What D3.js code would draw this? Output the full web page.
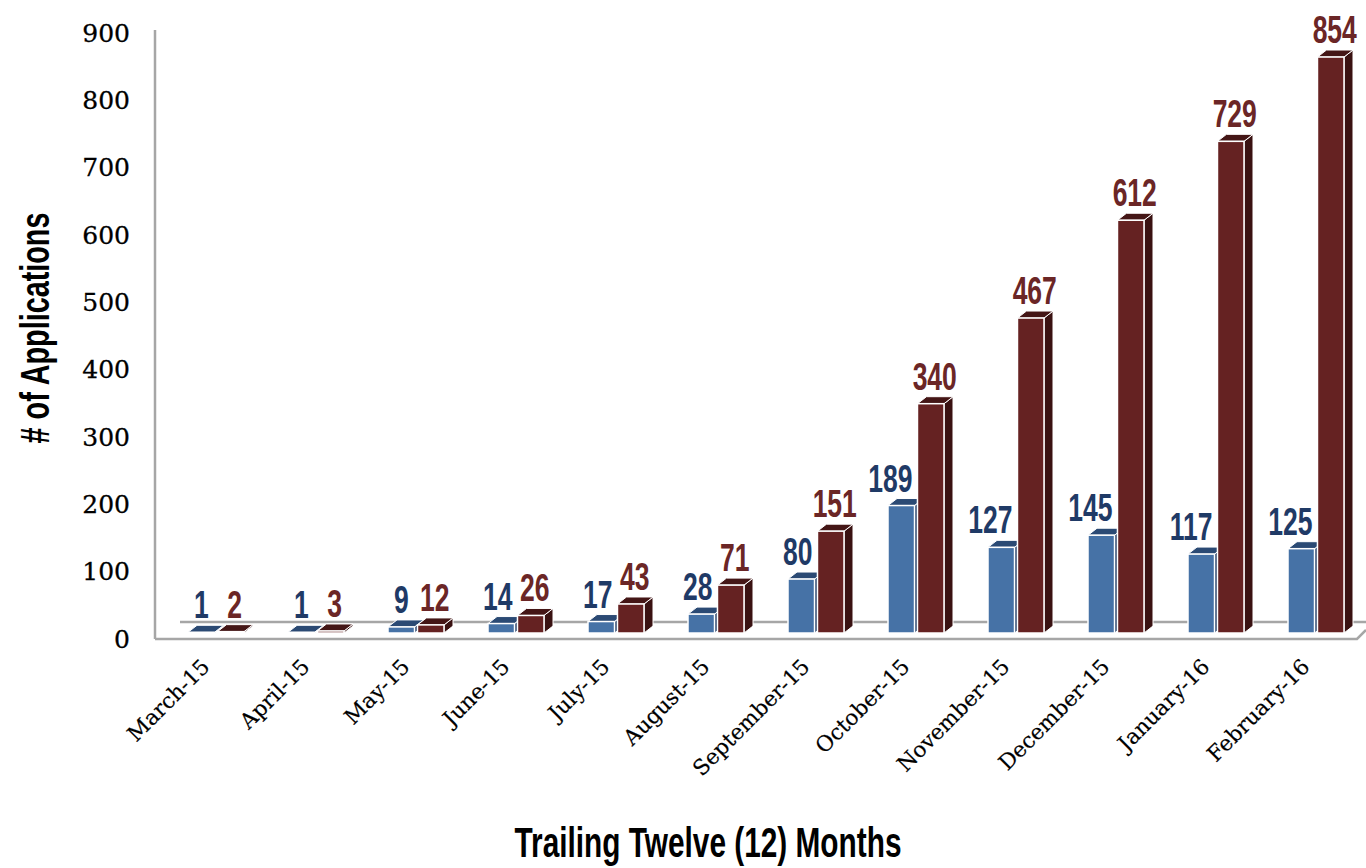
<!DOCTYPE html>
<html lang="en">
<head>
<meta charset="utf-8">
<title>Trailing Twelve Months Applications</title>
<script src="https://d3js.org/d3.v7.min.js"></script>
<style>
  body { margin: 0; background: #fff; }
  svg { display: block; }
</style>
</head>
<body>
<script>
// values
var months = ["March-15", "April-15", "May-15", "June-15", "July-15", "August-15",
              "September-15", "October-15", "November-15", "December-15", "January-16", "February-16"];
var monthlyApps = [1, 1, 9, 14, 17, 28, 80, 189, 127, 145, 117, 125];
var totalApps = [2, 3, 12, 26, 43, 71, 151, 340, 467, 612, 729, 854];
var yTicks = [0, 100, 200, 300, 400, 500, 600, 700, 800, 900];

var width = 1366, height = 868;
var depthX = 9, depthY = -7;
var narrow = 0.68; // squeeze to imitate the condensed face
var condFont = "'Liberation Sans', Arial, sans-serif";

var svg = d3.select("body").append("svg")
    .attr("width", width)
    .attr("height", height);

var x0 = d3.scaleBand().domain(months).range([178, 1378]);
var x1 = d3.scaleBand().domain(["monthly", "total"]).range([10, 66]).paddingInner(0.1);

// bars and axis labels sit on slightly different planes in the 3d view
var yBar = d3.scaleLinear().domain([0, 900]).range([633, 26]);
var yAxisScale = d3.scaleLinear().domain([0, 900]).range([638, 32]);

var gray = "#a6a6a6";

// floor back edge (behind the bars)
svg.append("line")
    .attr("x1", 180).attr("x2", width)
    .attr("y1", yBar(0) - 11).attr("y2", yBar(0) - 11)
    .attr("stroke", gray).attr("stroke-width", 2.5);

// left wall edge
svg.append("line")
    .attr("x1", 155).attr("x2", 155)
    .attr("y1", yAxisScale(900) - 2).attr("y2", yBar(0) + 6)
    .attr("stroke", gray).attr("stroke-width", 2.5);

var series = [
  { key: "monthly", values: monthlyApps, front: "#4672a6", top: "#2b4a74", side: "#2a456b", label: "#1f3a66" },
  { key: "total", values: totalApps, front: "#652222", top: "#441616", side: "#3a1212", label: "#6b2626" }
];

var groups = svg.selectAll(".grp")
    .data(months)
    .enter().append("g")
    .attr("class", "grp")
    .attr("transform", function(d) { return "translate(" + x0(d) + ",0)"; });

groups.each(function(m, i) {
  var g = d3.select(this);
  series.forEach(function(s) {
    var v = s.values[i];
    var bx = x1(s.key), bw = x1.bandwidth();
    var top = yBar(v), base = yBar(0);
    // side face
    g.append("path")
      .attr("d", "M" + (bx + bw) + "," + base + "L" + (bx + bw + depthX) + "," + (base + depthY) +
                 "L" + (bx + bw + depthX) + "," + (top + depthY) + "L" + (bx + bw) + "," + top + "Z")
      .attr("fill", s.side).attr("stroke", "#fff").attr("stroke-width", 1);
    // top face
    g.append("path")
      .attr("d", "M" + bx + "," + top + "L" + (bx + depthX) + "," + (top + depthY) +
                 "L" + (bx + bw + depthX) + "," + (top + depthY) + "L" + (bx + bw) + "," + top + "Z")
      .attr("fill", s.top).attr("stroke", "#fff").attr("stroke-width", 1);
    // front face
    g.append("rect")
      .attr("x", bx).attr("y", top)
      .attr("width", bw).attr("height", Math.max(0.5, base - top))
      .attr("fill", s.front).attr("stroke", "#fff").attr("stroke-width", 1.5);
  });
});

// floor front edge
svg.append("path")
    .attr("d", "M155," + (yBar(0) + 6) + "L1357," + (yBar(0) + 6) + "L" + width + "," + (yBar(0) - 3))
    .attr("fill", "none").attr("stroke", gray).attr("stroke-width", 2.5);

// data labels
groups.each(function(m, i) {
  var g = d3.select(this);
  series.forEach(function(s) {
    var v = s.values[i];
    var bx = x1(s.key), bw = x1.bandwidth();
    var lg = g.append("g");
    var t = lg.append("text")
      .attr("font-family", condFont)
      .attr("font-weight", "bold")
      .attr("font-size", 39)
      .attr("fill", s.label)
      .text(v);
    var w = t.node().getComputedTextLength() * narrow;
    var cx = bx + bw / 2 + (s.key === "total" ? 4 : 0);
    var lx = cx;
    if (s.key === "monthly") lx = Math.min(cx + w / 2, bx + bw - 2) - w / 2;
    t.attr("text-anchor", "middle");
    lg.attr("transform", "translate(" + lx + "," + (yBar(v) - 14) + ") scale(" + narrow + ",1)");
  });
});

// y axis
var yAxis = d3.axisLeft(yAxisScale).tickValues(yTicks).tickSize(0).tickPadding(0);
var ya = svg.append("g").attr("transform", "translate(130,0)").call(yAxis);
ya.select(".domain").remove();
ya.selectAll("text")
    .attr("font-family", "'DejaVu Serif', serif")
    .attr("font-size", 25)
    .attr("fill", "#000")
    .attr("stroke", "#000").attr("stroke-width", 0.3)
    .attr("dy", "0.36em");

// x axis labels
svg.append("g").selectAll("text")
    .data(months)
    .enter().append("text")
    .attr("transform", function(d) { return "translate(" + (x0(d) + 33) + ",668) rotate(-45)"; })
    .attr("text-anchor", "end")
    .attr("font-family", "'DejaVu Serif', serif")
    .attr("font-size", 21.5)
    .attr("fill", "#000")
    .attr("stroke", "#000").attr("stroke-width", 0.2)
    .text(function(d) { return d; });

// axis titles
svg.append("g")
    .attr("transform", "translate(708,857) scale(0.71,1)")
  .append("text")
    .attr("text-anchor", "middle")
    .attr("font-family", condFont)
    .attr("font-weight", "bold")
    .attr("font-size", 42)
    .attr("fill", "#000")
    .text("Trailing Twelve (12) Months");

svg.append("g")
    .attr("transform", "translate(49,328) rotate(-90) scale(0.72,1)")
  .append("text")
    .attr("text-anchor", "middle")
    .attr("font-family", condFont)
    .attr("font-weight", "bold")
    .attr("font-size", 40)
    .attr("fill", "#000")
    .text("# of Applications");
</script>
</body>
</html>
